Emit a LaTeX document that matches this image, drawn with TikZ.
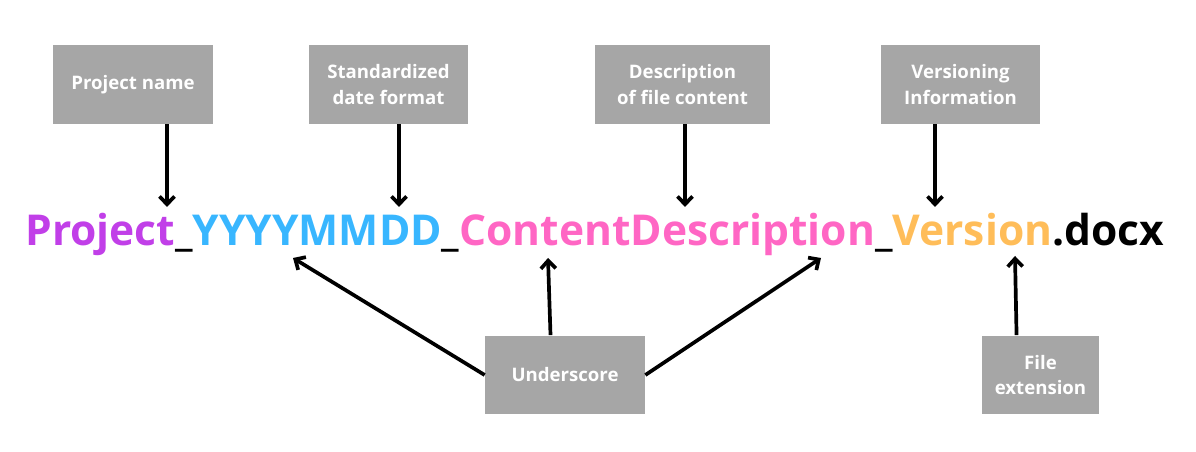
\documentclass[tikz,border=0pt]{standalone}
\usepackage{fontspec}
\setmainfont{Open Sans}
\usetikzlibrary{arrows.meta}
\definecolor{boxgray}{HTML}{A6A6A6}
\definecolor{projpurple}{HTML}{C13FE8}
\definecolor{dateblue}{HTML}{38B6FF}
\definecolor{contentpink}{HTML}{FF66C4}
\definecolor{versionorange}{HTML}{FFBD59}
\begin{document}
\begin{tikzpicture}[x=0.02cm,y=-0.02cm,
    label box/.style={fill=boxgray,text=white,align=center,inner sep=0pt,
      minimum height=1.58cm,font=\fontsize{10.6}{14.7}\selectfont\bfseries},
    pointer/.style={line width=2.1pt,-{Straight Barb[length=4.5pt,width=8.5pt]}}]
    \useasboundingbox (0,0) rectangle (1196,452);
    %% NOTE: file name
    \node[anchor=base west,inner sep=0pt,font=\fontsize{24.2}{28}\selectfont\bfseries] (filename) at (25,246)
        {\textcolor{projpurple}{Project}\_\textcolor{dateblue}{YYYYMMDD}\_\textcolor{contentpink}{ContentDescription}\_\textcolor{versionorange}{Version}.docx};
    %% labels above
    \node[label box,minimum width=3.2cm] (project) at (133,84.5) {Project name};
    \node[label box,minimum width=3.18cm] (date) at (388.5,84.5) {Standardized\\date format};
    \node[label box,minimum width=3.5cm] (content) at (682.5,84.5) {Description\\of file content};
    \node[label box,minimum width=3.18cm] (version) at (960.5,84.5) {Versioning\\Information};
    %% labels below
    \node[label box,minimum width=3.2cm] (underscore) at (565,375) {Underscore};
    \node[label box,minimum width=2.34cm] (extension) at (1040.5,375) {File\\extension};
    %% arrow tips
    \coordinate (tip project) at (167,207);
    \coordinate (tip date) at (399,207);
    \coordinate (tip content) at (685,207);
    \coordinate (tip version) at (935,207);
    \coordinate (tip first) at (293,258);
    \coordinate (tip second) at (548,258);
    \coordinate (tip third) at (821,258);
    \coordinate (tip extension) at (1015,256);
    %% arrows
    \draw[pointer] (project.south -| tip project) -- (tip project);
    \draw[pointer] (date.south -| tip date) -- (tip date);
    \draw[pointer] (content.south -| tip content) -- (tip content);
    \draw[pointer] (version.south -| tip version) -- (tip version);
    \draw[pointer] (underscore.west) -- (tip first);
    \draw[pointer] (underscore.110) -- (tip second);
    \draw[pointer] (underscore.east) -- (tip third);
    \draw[pointer] (extension.121) -- (tip extension);
\end{tikzpicture}
\end{document}
